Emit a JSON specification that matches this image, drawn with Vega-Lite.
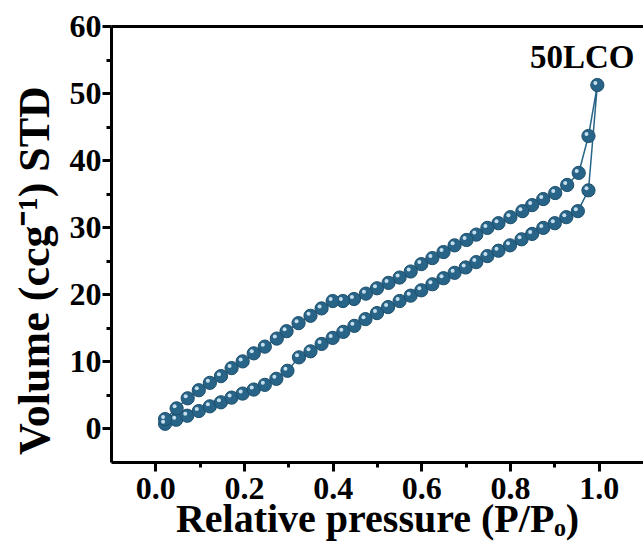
{
  "$schema": "https://vega.github.io/schema/vega-lite/v6.json",
  "autosize": "none",
  "padding": {"left": 111, "top": 26, "right": 0, "bottom": 85},
  "width": 532,
  "height": 436,
  "background": "white",
  "config": {
    "view": {"stroke": null},
    "font": "Liberation Serif"
  },
  "datasets": {
    "iso": [
      {"o": 1, "p": 0.022, "v": 0.7},
      {"o": 2, "p": 0.047, "v": 1.3},
      {"o": 3, "p": 0.072, "v": 1.9},
      {"o": 4, "p": 0.098, "v": 2.6},
      {"o": 5, "p": 0.123, "v": 3.3},
      {"o": 6, "p": 0.148, "v": 3.9},
      {"o": 7, "p": 0.172, "v": 4.6},
      {"o": 8, "p": 0.197, "v": 5.2},
      {"o": 9, "p": 0.222, "v": 5.8},
      {"o": 10, "p": 0.247, "v": 6.5},
      {"o": 11, "p": 0.273, "v": 7.4},
      {"o": 12, "p": 0.298, "v": 8.6},
      {"o": 13, "p": 0.324, "v": 10.6},
      {"o": 14, "p": 0.350, "v": 11.5},
      {"o": 15, "p": 0.375, "v": 12.6},
      {"o": 16, "p": 0.400, "v": 13.5},
      {"o": 17, "p": 0.424, "v": 14.4},
      {"o": 18, "p": 0.449, "v": 15.3},
      {"o": 19, "p": 0.474, "v": 16.3},
      {"o": 20, "p": 0.500, "v": 17.2},
      {"o": 21, "p": 0.525, "v": 18.1},
      {"o": 22, "p": 0.551, "v": 19.0},
      {"o": 23, "p": 0.576, "v": 19.8},
      {"o": 24, "p": 0.600, "v": 20.6},
      {"o": 25, "p": 0.625, "v": 21.5},
      {"o": 26, "p": 0.650, "v": 22.4},
      {"o": 27, "p": 0.675, "v": 23.2},
      {"o": 28, "p": 0.700, "v": 24.0},
      {"o": 29, "p": 0.724, "v": 24.8},
      {"o": 30, "p": 0.749, "v": 25.7},
      {"o": 31, "p": 0.774, "v": 26.5},
      {"o": 32, "p": 0.800, "v": 27.3},
      {"o": 33, "p": 0.826, "v": 28.2},
      {"o": 34, "p": 0.850, "v": 29.0},
      {"o": 35, "p": 0.875, "v": 29.9},
      {"o": 36, "p": 0.901, "v": 30.6},
      {"o": 37, "p": 0.927, "v": 31.5},
      {"o": 38, "p": 0.953, "v": 32.4},
      {"o": 39, "p": 0.977, "v": 35.5},
      {"o": 40, "p": 0.997, "v": 51.2},
      {"o": 41, "p": 0.977, "v": 43.6},
      {"o": 42, "p": 0.955, "v": 38.1},
      {"o": 43, "p": 0.929, "v": 36.3},
      {"o": 44, "p": 0.902, "v": 35.1},
      {"o": 45, "p": 0.875, "v": 34.2},
      {"o": 46, "p": 0.850, "v": 33.3},
      {"o": 47, "p": 0.828, "v": 32.4},
      {"o": 48, "p": 0.801, "v": 31.5},
      {"o": 49, "p": 0.774, "v": 30.6},
      {"o": 50, "p": 0.749, "v": 29.9},
      {"o": 51, "p": 0.724, "v": 28.9},
      {"o": 52, "p": 0.702, "v": 28.1},
      {"o": 53, "p": 0.675, "v": 27.3},
      {"o": 54, "p": 0.650, "v": 26.3},
      {"o": 55, "p": 0.625, "v": 25.4},
      {"o": 56, "p": 0.600, "v": 24.5},
      {"o": 57, "p": 0.576, "v": 23.4},
      {"o": 58, "p": 0.551, "v": 22.5},
      {"o": 59, "p": 0.526, "v": 21.7},
      {"o": 60, "p": 0.500, "v": 20.9},
      {"o": 61, "p": 0.475, "v": 20.1},
      {"o": 62, "p": 0.448, "v": 19.3},
      {"o": 63, "p": 0.423, "v": 19.0},
      {"o": 64, "p": 0.400, "v": 19.0},
      {"o": 65, "p": 0.375, "v": 17.9},
      {"o": 66, "p": 0.350, "v": 16.8},
      {"o": 67, "p": 0.323, "v": 15.7},
      {"o": 68, "p": 0.296, "v": 14.5},
      {"o": 69, "p": 0.274, "v": 13.4},
      {"o": 70, "p": 0.247, "v": 12.2},
      {"o": 71, "p": 0.222, "v": 11.2},
      {"o": 72, "p": 0.197, "v": 10.0},
      {"o": 73, "p": 0.172, "v": 9.0},
      {"o": 74, "p": 0.148, "v": 7.8},
      {"o": 75, "p": 0.123, "v": 6.8},
      {"o": 76, "p": 0.098, "v": 5.7},
      {"o": 77, "p": 0.073, "v": 4.5},
      {"o": 78, "p": 0.048, "v": 3.0},
      {"o": 79, "p": 0.022, "v": 1.4}
    ],
    "note": [
      {"label": "50LCO", "p": 0.963, "v": 53.7}
    ]
  },
  "layer": [
    {
      "data": {"name": "iso"},
      "mark": {"type": "line", "color": "#286487", "strokeWidth": 1.5},
      "encoding": {
        "x": {"field": "p", "type": "quantitative", "axis": null},
        "y": {"field": "v", "type": "quantitative", "axis": null},
        "order": {"field": "o", "type": "quantitative"}
      }
    },
    {
      "data": {"name": "iso"},
      "mark": {"type": "point", "shape": "circle", "filled": true, "size": 175, "color": "#286487", "stroke": "#1c4f6d", "strokeWidth": 1, "opacity": 1},
      "encoding": {
        "x": {
          "field": "p", "type": "quantitative",
          "scale": {"domain": [-0.1, 1.1], "nice": false, "zero": false},
          "axis": {
            "orient": "bottom",
            "title": "Relative pressure (P/Pₒ)",
            "values": [0, 0.1, 0.2, 0.3, 0.4, 0.5, 0.6, 0.7, 0.8, 0.9, 1.0],
            "labelExpr": "round(datum.value*10)%2==0 ? format(datum.value, '.1f') : ''",
            "grid": false,
            "domainColor": "black", "domainWidth": 3,
            "tickColor": "black", "tickWidth": 3,
            "tickSize": {"condition": {"test": "round(datum.value*10)%2==1", "value": 5}, "value": 9},
            "labelFont": "Liberation Serif", "labelFontWeight": "bold", "labelFontSize": 32, "labelColor": "black",
            "labelPadding": 2, "labelFlush": false, "labelOverlap": false,
            "titleFont": "Liberation Serif", "titleFontWeight": "bold", "titleFontSize": 40, "titleColor": "black",
            "titlePadding": -5
          }
        },
        "y": {
          "field": "v", "type": "quantitative",
          "scale": {"domain": [-5, 60], "nice": false, "zero": false},
          "axis": {
            "orient": "left",
            "title": "Volume (ccg⁻¹) STD",
            "values": [0, 5, 10, 15, 20, 25, 30, 35, 40, 45, 50, 55, 60],
            "labelExpr": "datum.value%10==0 ? format(datum.value, 'd') : ''",
            "grid": false,
            "domainColor": "black", "domainWidth": 3,
            "tickColor": "black", "tickWidth": 3,
            "tickSize": {"condition": {"test": "datum.value%10==5", "value": 5}, "value": 9},
            "labelFont": "Liberation Serif", "labelFontWeight": "bold", "labelFontSize": 32, "labelColor": "black",
            "labelPadding": 1, "labelFlush": false, "labelOverlap": false,
            "titleFont": "Liberation Serif", "titleFontWeight": "bold", "titleFontSize": 44, "titleColor": "black",
            "titlePadding": 12, "titleY": 244
          }
        }
      }
    },
    {
      "data": {"name": "iso"},
      "mark": {"type": "point", "shape": "circle", "filled": true, "size": 16, "color": "#cfe6f3", "opacity": 0.95, "xOffset": -2, "yOffset": -2},
      "encoding": {
        "x": {"field": "p", "type": "quantitative", "axis": null},
        "y": {"field": "v", "type": "quantitative", "axis": null}
      }
    },
    {
      "data": {"name": "note"},
      "mark": {"type": "text", "font": "Liberation Serif", "fontWeight": "bold", "fontSize": 33, "color": "black", "baseline": "alphabetic", "align": "center"},
      "encoding": {
        "x": {
          "field": "p", "type": "quantitative",
          "axis": {"orient": "top", "title": null, "labels": false, "ticks": false, "grid": false, "domainColor": "black", "domainWidth": 3}
        },
        "y": {"field": "v", "type": "quantitative", "axis": null},
        "text": {"field": "label"}
      }
    }
  ],
  "resolve": {"axis": {"x": "independent", "y": "independent"}}
}
